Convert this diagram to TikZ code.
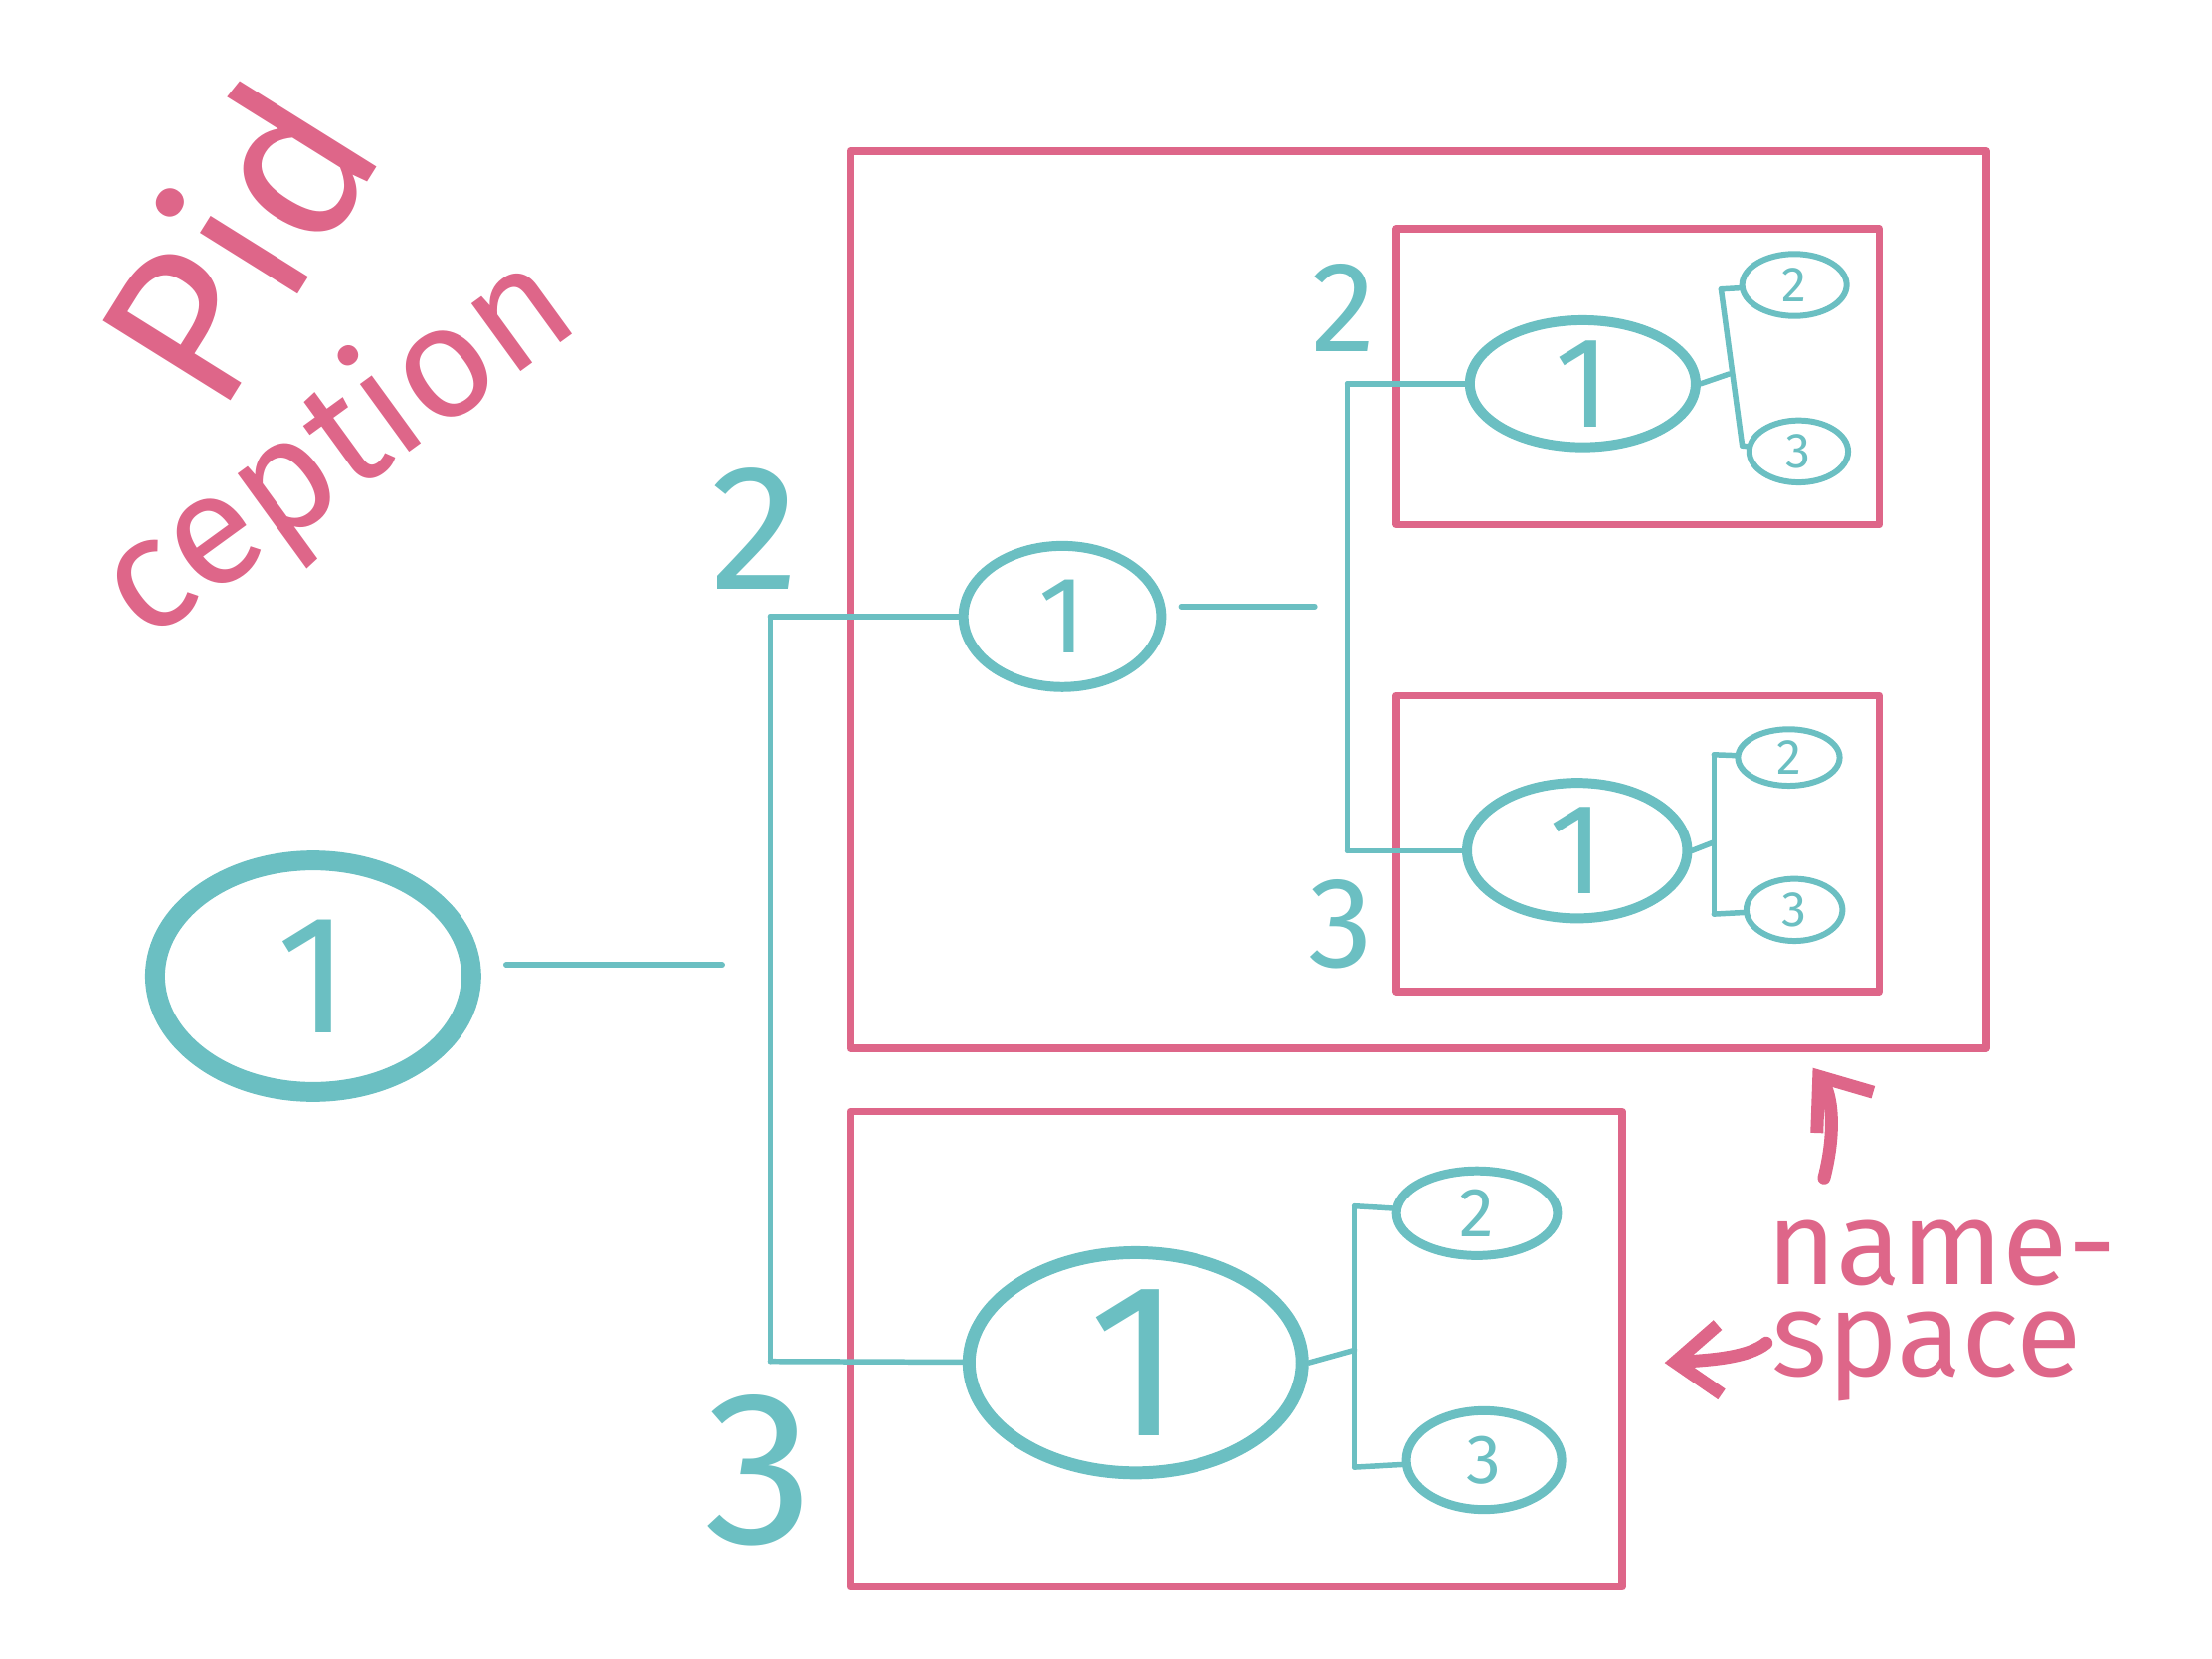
\documentclass[tikz,border=0pt]{standalone}
\usepackage{fontspec}
\setmainfont{Fira Sans}
\usetikzlibrary{shapes.geometric,fit,arrows.meta}
\definecolor{teal}{HTML}{6BBFC2}
\definecolor{rose}{HTML}{DE6689}
\tikzset{
  pid/.style={draw=teal,ellipse,line width=1.2pt,inner sep=0pt,text=teal},
  nsbox/.style={draw=rose,rectangle,line width=1.5pt,inner sep=0pt},
  link/.style={draw=teal,line width=1.1pt},
  lbl/.style={text=teal,inner sep=0pt},
  note/.style={text=rose,inner sep=0pt},
}
\newcommand{\fs}[1]{\fontsize{#1}{#1}\selectfont}
\begin{document}
\begin{tikzpicture}[x=0.01cm,y=-0.01cm,>={Straight Barb[length=9pt,width=14pt]},line join=round,line cap=round]
\useasboundingbox (0,0) rectangle (1568,1176);
%%
\node (title1) at (165,170) [note,rotate=58] {\fs{44}Pid};
\node (title2) at (240,318) [note,rotate=36] {\fs{32}ception};
%% namespaces
\node (outer) [nsbox,fit={(603,107) (1408,743)}] {};
\node (inup) [nsbox,fit={(990,162) (1332,372)}] {};
\node (inlow) [nsbox,fit={(990,493) (1332,703)}] {};
\node (lower) [nsbox,fit={(603,788) (1150,1125)}] {};
%% pids
\node (root) at (222,692) [pid,line width=4pt,minimum width=2.24cm,minimum height=1.64cm] {\fs{34}1};
\node (mid) at (753,437) [pid,line width=2pt,minimum width=1.4cm,minimum height=1cm] {\fs{22}1};
\node (up1) at (1122,272) [pid,line width=2pt,minimum width=1.6cm,minimum height=0.9cm] {\fs{26}1};
\node (up2) at (1272,202) [pid,minimum width=0.74cm,minimum height=0.44cm] {\fs{10}2};
\node (up3) at (1275,320) [pid,minimum width=0.7cm,minimum height=0.44cm] {\fs{10}3};
\node (low1) at (1118,603) [pid,line width=2pt,minimum width=1.56cm,minimum height=0.96cm] {\fs{26}1};
\node (low2) at (1268,537) [pid,minimum width=0.72cm,minimum height=0.4cm] {\fs{10}2};
\node (low3) at (1272,645) [pid,minimum width=0.68cm,minimum height=0.44cm] {\fs{10}3};
\node (bot1) at (805,966) [pid,line width=2.6pt,minimum width=2.36cm,minimum height=1.56cm] {\fs{44}1};
\node (bot2) at (1047,860) [pid,line width=1.8pt,minimum width=1.14cm,minimum height=0.6cm] {\fs{14}2};
\node (bot3) at (1052,1035) [pid,line width=1.8pt,minimum width=1.1cm,minimum height=0.7cm] {\fs{14}3};
%% labels
\node (l2a) at (535,375) [lbl] {\fs{36}2};
\node (l3a) at (538,1042) [lbl] {\fs{44}3};
\node (l2b) at (952,218) [lbl] {\fs{26}2};
\node (l3b) at (950,655) [lbl] {\fs{26}3};
\node (ns1) at (1376,888) [note] {\fs{24}name-};
\node (ns2) at (1366,962) [note] {\fs{24}space};
%% wiring
\coordinate (rootend) at (512,684);
\coordinate (a2) at (546,437);
\coordinate (a3) at (546,965);
\coordinate (midend) at (932,430);
\coordinate (b2) at (955,272);
\coordinate (b3) at (955,603);
\coordinate (ub2) at (1220,205);
\coordinate (ub3) at (1235,316);
\coordinate (ubm) at (1226,265);
\coordinate (lb2) at (1215,535);
\coordinate (lb3) at (1215,648);
\coordinate (lbm) at (1215,597);
\coordinate (bb2) at (960,855);
\coordinate (bb3) at (960,1040);
\coordinate (bbm) at (960,957);
\draw [link,shorten <=5pt] (root.east |- rootend) -- (rootend);
\draw [link] (a2) -- (a3);
\draw [link] (a2) -- (mid);
\draw [link] (a3) -- (bot1);
\draw [link,shorten <=3pt] (mid.east |- midend) -- (midend);
\draw [link] (b2) -- (b3);
\draw [link] (b2) -- (up1);
\draw [link] (b3) -- (low1);
\draw [link] (ub2) -- (ub3);
\draw [link] (up1.east) -- (ubm);
\draw [link] (ub2) -- (up2);
\draw [link] (ub3) -- (up3);
\draw [link] (lb2) -- (lb3);
\draw [link] (low1.east) -- (lbm);
\draw [link] (lb2) -- (low2);
\draw [link] (lb3) -- (low3);
\draw [link] (bb2) -- (bb3);
\draw [link] (bot1.east) -- (bbm);
\draw [link] (bb2) -- (bot2);
\draw [link] (bb3) -- (bot3);
%% notes
\coordinate (upfrom) at (1293,835);
\coordinate (upto) at (1285,757);
\coordinate (leftfrom) at (1252,952);
\coordinate (leftto) at (1180,966);
\draw [->,draw=rose,line width=2.6pt] (upfrom) .. controls (1302,800) and (1298,775) .. (upto);
\draw [->,draw=rose,line width=2.6pt] (leftfrom) .. controls (1240,962) and (1215,964) .. (leftto);
%
\end{tikzpicture}
\end{document}
